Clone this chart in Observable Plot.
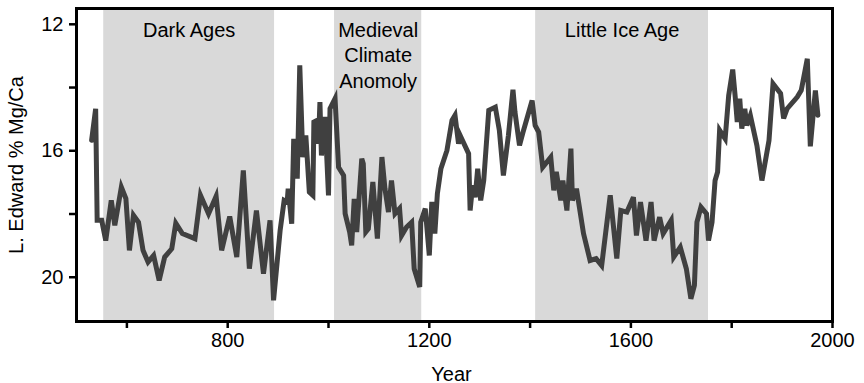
<!DOCTYPE html>
<html>
<head>
<meta charset="utf-8">
<script src="https://cdn.jsdelivr.net/npm/d3@7"></script>
<script src="https://cdn.jsdelivr.net/npm/@observablehq/plot@0.6"></script>
<style>
  html, body { margin: 0; padding: 0; background: #fff; }
</style>
</head>
<body>
<div id="chart"></div>
<script>
// Lake Edward Mg/Ca record (% Mg/Ca), by calendar year
const years = [
  530, 538, 541, 550, 558, 569, 576, 589, 598, 605, 613, 623, 632, 642, 653, 664, 675, 689, 697, 710,
  735, 746, 762, 777, 788, 804, 818, 831, 843, 857, 871, 884, 891, 904, 912, 918, 920, 927, 931, 938,
  943, 949, 955, 962, 969, 971, 977, 980, 983, 986, 993, 1000, 1003, 1013, 1020, 1030, 1033, 1042, 1046, 1051,
  1056, 1066, 1069, 1074, 1079, 1088, 1097, 1106, 1112, 1119, 1125, 1132, 1141, 1145, 1155, 1165, 1170, 1181, 1183, 1192,
  1200, 1205, 1211, 1216, 1223, 1235, 1245, 1251, 1258, 1261, 1278, 1281, 1286, 1291, 1296, 1302, 1308, 1318, 1331, 1339,
  1347, 1357, 1366, 1370, 1379, 1386, 1404, 1410, 1417, 1425, 1441, 1447, 1452, 1461, 1465, 1473, 1481, 1484, 1492, 1506,
  1519, 1531, 1542, 1559, 1572, 1580, 1592, 1605, 1611, 1619, 1630, 1640, 1646, 1657, 1664, 1680, 1685, 1698, 1710, 1719,
  1726, 1731, 1739, 1750, 1754, 1761, 1767, 1772, 1776, 1787, 1794, 1802, 1807, 1811, 1816, 1820, 1826, 1830, 1837, 1850,
  1860, 1874, 1882, 1897, 1903, 1910, 1930, 1938, 1950, 1956, 1966, 1971
];
const mgca = [
  15.67, 14.67, 18.20, 18.20, 18.84, 17.57, 18.36, 17.15, 17.51, 19.15, 18.04, 18.26, 19.15, 19.52, 19.31, 20.10, 19.36, 19.10, 18.29, 18.62,
  18.78, 17.41, 17.99, 17.44, 19.15, 18.08, 19.36, 16.62, 19.73, 17.89, 19.89, 18.20, 20.73, 18.52, 17.57, 17.62, 17.20, 18.31, 15.62, 16.88,
  13.30, 16.20, 15.51, 17.31, 17.41, 15.09, 15.04, 15.78, 14.46, 16.15, 14.93, 17.41, 14.67, 14.35, 16.52, 16.78, 17.99, 18.57, 18.99, 17.52,
  18.57, 16.25, 16.41, 18.57, 18.47, 16.99, 18.78, 16.20, 17.20, 17.94, 16.94, 17.99, 17.83, 18.68, 18.41, 18.26, 19.73, 20.31, 18.26, 17.83,
  19.31, 17.62, 18.62, 17.36, 16.57, 15.99, 15.04, 14.88, 15.78, 15.51, 16.09, 17.89, 17.09, 17.47, 16.57, 17.57, 16.94, 14.72, 14.62, 15.35,
  16.78, 15.51, 14.07, 14.78, 15.83, 15.41, 14.41, 15.20, 15.41, 16.52, 16.20, 17.25, 16.67, 17.57, 16.94, 17.89, 15.93, 17.57, 17.20, 18.62,
  19.47, 19.41, 19.63, 17.41, 19.41, 17.89, 17.94, 17.47, 18.68, 17.62, 18.84, 17.62, 18.84, 18.10, 18.62, 18.20, 19.36, 19.05, 19.73, 20.68,
  20.26, 18.26, 17.78, 17.99, 18.84, 18.26, 16.94, 16.67, 15.35, 15.62, 14.25, 13.43, 14.30, 15.09, 14.35, 15.30, 14.67, 15.20, 14.88, 15.83,
  16.94, 15.67, 13.88, 14.19, 14.98, 14.67, 14.30, 14.09, 13.09, 15.86, 14.09, 14.88
];

// Climate periods (shaded bands)
const periodNames = ["Dark Ages", "Medieval\nClimate\nAnomoly", "Little Ice Age"];
const periodStart = [554, 1012, 1411];
const periodEnd = [893, 1185, 1754];

// Axis ticks, tick labels and titles
const xTicks = [600, 800, 1000, 1200, 1400, 1600, 1800, 2000];
const xTickLabels = ["", "800", "", "1200", "", "1600", "", "2000"];
const yTicks = [12, 14, 16, 18, 20];
const yTickLabels = ["12", "", "16", "", "20"];
const xTitle = "Year";
const yTitle = "L. Edward % Mg/Ca";

const series = years.map((year, i) => ({year, value: mgca[i]}));
const periods = periodNames.map((name, i) => ({
  name,
  start: periodStart[i],
  end: periodEnd[i],
  mid: (periodStart[i] + periodEnd[i]) / 2
}));

const chart = Plot.plot({
  width: 864,
  height: 383,
  marginLeft: 76,
  marginRight: 32,
  marginTop: 8,
  marginBottom: 62,
  style: {
    fontFamily: '"Liberation Sans", Arial, Helvetica, sans-serif',
    fontSize: "20px",
    color: "#000",
    background: "#fff",
    overflow: "visible"
  },
  x: {domain: [500, 2000]},
  y: {domain: [11.5, 21.4], reverse: true},
  marks: [
    Plot.rect(periods, {x1: "start", x2: "end", fill: "#d9d9d9"}),
    Plot.text(periods, {
      x: "mid", text: "name", frameAnchor: "top", lineAnchor: "top",
      dy: 10, lineHeight: 1.28, fill: "#000"
    }),
    Plot.line(series, {
      x: "year", y: "value", stroke: "#404040", strokeWidth: 5,
      strokeLinejoin: "miter", strokeMiterlimit: 4
    }),
    Plot.axisX({
      ticks: xTicks,
      tickFormat: d => xTickLabels[xTicks.indexOf(d)],
      tickSize: 7, tickPadding: 4, strokeWidth: 2.5,
      label: null
    }),
    Plot.axisY({
      ticks: yTicks,
      tickFormat: d => yTickLabels[yTicks.indexOf(d)],
      tickSize: 7, tickPadding: 6, strokeWidth: 2.5,
      label: null
    }),
    Plot.text([xTitle], {
      text: d => d, frameAnchor: "bottom", lineAnchor: "bottom", dy: 59, dx: -3, fill: "#000"
    }),
    Plot.text([yTitle], {
      text: d => d, frameAnchor: "left", textAnchor: "middle", lineAnchor: "top",
      rotate: -90, dx: -68, fill: "#000"
    }),
    Plot.frame({stroke: "#000", strokeWidth: 3})
  ]
});

document.getElementById("chart").appendChild(chart);
</script>
</body>
</html>
